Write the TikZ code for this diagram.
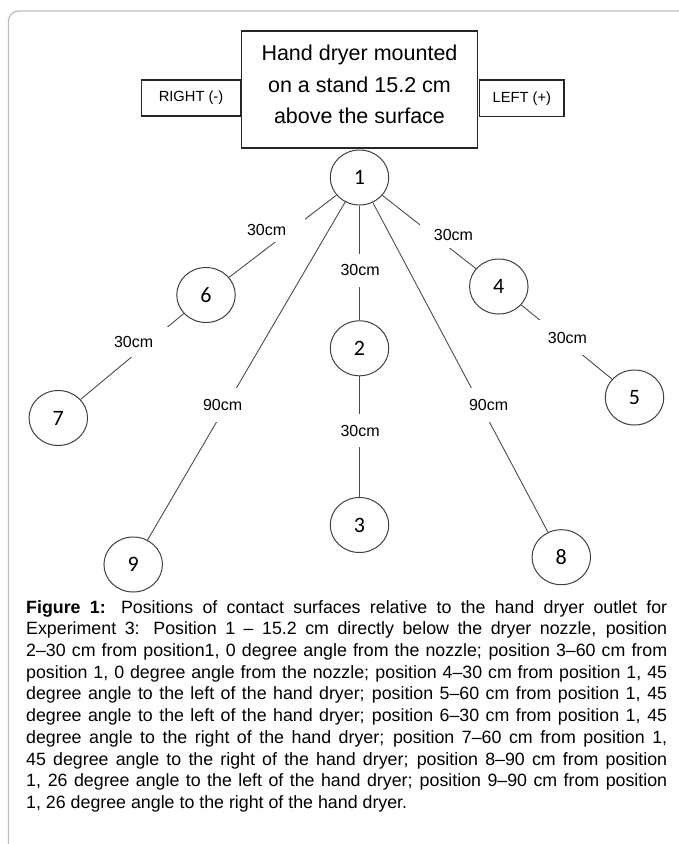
\documentclass[tikz,border=0pt]{standalone}
\usepackage{fontspec}
\setmainfont{Liberation Sans}
\newfontfamily\spotfont{Carlito}
\usepackage{tikz}
\usetikzlibrary{positioning}
\usetikzlibrary{shapes.geometric}

\begin{document}
\begin{tikzpicture}[x=1pt,y=1pt,node distance=1cm,on grid,
    every node/.style={inner sep=0pt},
    box/.style={draw=black!85,line width=1.1pt},
    spot/.style={draw=black!75,ellipse,line width=1pt,minimum width=58.5pt,minimum height=55pt,font=\spotfont\fontsize{22pt}{22pt}\selectfont},
    link/.style={draw=black!70,line width=0.9pt},
    dist/.style={fill=white,inner xsep=3pt,font=\fontsize{16pt}{17pt}\selectfont},
    frame/.style={draw=black!25,line width=1.3pt}]

        \useasboundingbox (0,0) rectangle (679,-844);
        \draw[frame] (8.5,-860) -- (8.5,-21) arc[start angle=180,end angle=90,radius=10] -- (700,-11);

        \node[spot]  (n1) at (359.5,-177.5) {1};
        \node[box,minimum width=236pt,minimum height=117pt,align=center,text depth=10pt,font=\fontsize{21.5pt}{31.5pt}\selectfont]  (dryer) [above=88pt of n1] {Hand dryer mounted\\on a stand 15.2 cm\\above the surface};
        \node[box,minimum width=99pt,minimum height=36pt,font=\fontsize{14.7pt}{16pt}\selectfont]  (right) [left=168.5pt of dryer, yshift=-8.5pt] {RIGHT (-)};
        \node[box,minimum width=84.4pt,minimum height=36.7pt,font=\fontsize{14.7pt}{16pt}\selectfont]  (left) [right=162.3pt of dryer, yshift=-8.8pt] {LEFT (+)};

        \node[spot]  (n6) [below left=117.5pt and 153.5pt of n1] {6};
        \node[spot]  (n7) [below left=123pt and 147.7pt of n6] {7};
        \node[spot]  (n4) [below right=109pt and 139.3pt of n1] {4};
        \node[spot]  (n5) [below right=111pt and 135.7pt of n4] {5};
        \node[spot]  (n2) [below=170.8pt of n1] {2};
        \node[spot]  (n3) [below=176.7pt of n2] {3};
        \node[spot]  (n9) [below left=387pt and 226.3pt of n1] {9};
        \node[spot]  (n8) [below right=379.7pt and 201.8pt of n1] {8};

        \path [link]
          (n1) edge (n6)
          (n6) edge (n7)
          (n1) edge (n4)
          (n4) edge (n5)
          (n1) edge (n2)
          (n2) edge (n3)
          (n1) edge (n9)
          (n1) edge (n8);

        \node[dist,text width=55pt,align=left,minimum height=24pt]  (l16) at (274.5,-230) {30cm};
        \node[dist,text width=50pt,align=right,minimum height=27pt]  (l14) at (448,-234.5) {30cm};
        \node[dist,text width=56pt,align=left,minimum height=30pt]  (l67) at (142,-342) {30cm};
        \node[dist,text width=46pt,align=right,minimum height=35pt]  (l45) at (564,-337.5) {30cm};
        \node[dist,text width=39pt,align=center,minimum height=33pt]  (l12) at (360,-270) {30cm};
        \node[dist,text width=39pt,align=center,minimum height=33pt]  (l23) at (360,-430.5) {30cm};
        \node[dist,text width=39pt,align=center,minimum height=34pt]  (l19) at (222.5,-405) {90cm};
        \node[dist,text width=39pt,align=center,minimum height=34pt]  (l18) at (488.5,-405) {90cm};

        \node[anchor=north west,text width=641pt,align=justify,font=\fontsize{17.8pt}{21.7pt}\selectfont]  (caption) at (26,-600) {\hyphenpenalty=10000\relax\textbf{Figure 1:} Positions of contact surfaces relative to the hand dryer outlet for\linebreak
Experiment 3: Position 1 -- 15.2 cm directly below the dryer nozzle, position\linebreak
2--30 cm from position1, 0 degree angle from the nozzle; position 3--60 cm from\linebreak
position 1, 0 degree angle from the nozzle; position 4--30 cm from position 1, 45\linebreak
degree angle to the left of the hand dryer; position 5--60 cm from position 1, 45\linebreak
degree angle to the left of the hand dryer; position 6--30 cm from position 1, 45\linebreak
degree angle to the right of the hand dryer; position 7--60 cm from position 1,\linebreak
45 degree angle to the right of the hand dryer; position 8--90 cm from position\linebreak
1, 26 degree angle to the left of the hand dryer; position 9--90 cm from position\linebreak
1, 26 degree angle to the right of the hand dryer.};

      \end{tikzpicture}
\end{document}
